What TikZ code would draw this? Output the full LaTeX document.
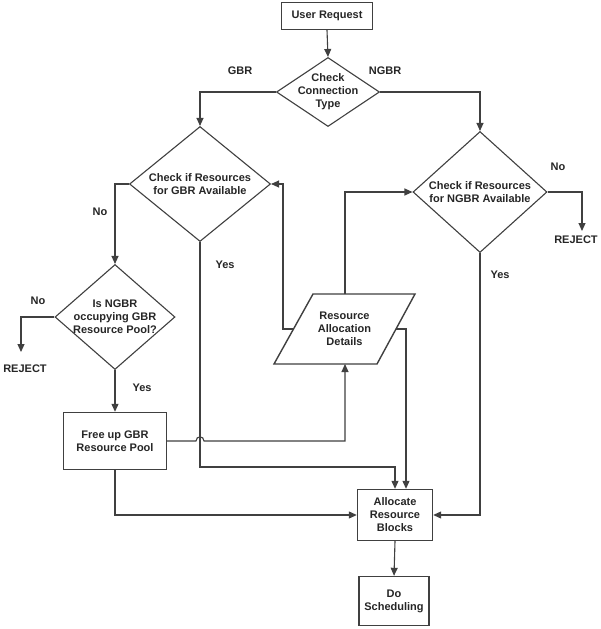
\documentclass[tikz,border=0pt]{standalone}
\usepackage{fontspec}
\setmainfont{Liberation Sans}
\usetikzlibrary{shapes.geometric,arrows.meta}
\begin{document}
\begin{tikzpicture}[x=1pt,y=-1pt,
  every node/.style={font=\fontsize{11}{13}\selectfont\bfseries, text=black!85},
  box/.style={draw=black!75, line width=1.4pt, rectangle, align=center, inner sep=0pt},
  dia/.style={draw=black!75, line width=1.1pt, diamond, inner sep=0pt},
  shapeline/.style={draw=black!75, line width=1.4pt, line join=miter},
  conn/.style={draw=black!75, line width=1.1pt},
  arr/.style={conn, -{Triangle[length=8pt,width=7pt]}},
  lbl/.style={inner sep=0pt},
  inner/.style={align=center}
]
\useasboundingbox[fill=white] (0,0) rectangle (600,629);

% nodes
\node[box, minimum width=91pt, minimum height=27pt] (ur) at (327,16) {User Request};
\node[dia, minimum width=103pt, minimum height=69pt,
  label={[inner]center:Check\\Connection\\Type}] (cct) at (328,92) {};
\node[dia, minimum width=141pt, minimum height=115pt,
  label={[inner]center:Check if Resources\\for GBR Available}] (gbr) at (200,184) {};
\node[dia, minimum width=134pt, minimum height=121pt,
  label={[inner]center:Check if Resources\\for NGBR Available}] (ngbr) at (480,192) {};
\node[dia, minimum width=120pt, minimum height=105pt,
  label={[inner]center:Is NGBR\\occupying GBR\\Resource Pool?}] (isn) at (115,317) {};
\node[box, minimum width=103pt, minimum height=57pt] (free) at (115,441) {Free up GBR\\Resource Pool};
\node[box, minimum width=75pt, minimum height=51pt] (alloc) at (395,515) {Allocate\\Resource\\Blocks};
\node[box, minimum width=70pt, minimum height=49pt] (sched) at (394,601) {Do\\Scheduling};

% parallelogram (Resource Allocation Details)
\coordinate (radBL) at (274,364);
\coordinate (radBR) at (377,364);
\coordinate (radTR) at (415,294);
\coordinate (radTL) at (313,294);
\draw[shapeline] (radBL) -- (radBR) -- (radTR) -- (radTL) -- cycle;
\node[align=center, inner sep=0pt] (rad) at (344.5,329) {Resource\\Allocation\\Details};
\coordinate (radE) at (396,329);
\coordinate (radW) at (293.5,329);
\coordinate (radN) at (345,294);
\coordinate (radS) at (345,364);

% free ends
\coordinate (rej1) at (21,352);
\coordinate (rej2) at (582,231);
\coordinate (jumpa) at (196,441);
\coordinate (jumpb) at (204,441);

% labels
\node[lbl] (lgbr) at (240,71) {GBR};
\node[lbl] (lngbr) at (385,71) {NGBR};
\node[lbl] (lno1) at (100,212) {No};
\node[lbl] (lyes1) at (225,265) {Yes};
\node[lbl] (lno2) at (558,167) {No};
\node[lbl] (lyes2) at (500,275) {Yes};
\node[lbl] (lno3) at (38,301) {No};
\node[lbl] (lyes3) at (142,388) {Yes};
\node[lbl] (rj1) at (25,369) {REJECT};
\node[lbl] (rj2) at (576,240) {REJECT};

% connectors
\draw[arr] (ur.south) -- (cct.north);
\draw[arr] (cct.west) -| (gbr.north);
\draw[arr] (cct.east) -| (ngbr.north);
\draw[arr] (gbr.west) -| (isn.north);
\draw[arr] (isn.west) -| (rej1);
\draw[arr] (isn.south) -- (free.north);
\draw[arr] (gbr.south) |- (200,467) -| (alloc.north);
\draw[arr] (radE) -| ([xshift=11pt]alloc.north);
\draw[arr] (radW) -- (283,329) |- (gbr.east);
\draw[arr] (radN) |- (ngbr.west);
\draw[arr] (free.east) -- (jumpa) .. controls (196,435.5) and (204,435.5) .. (jumpb) -| (radS);
\draw[arr] (free.south) |- (alloc.west);
\draw[arr] (ngbr.south) |- (alloc.east);
\draw[arr] (ngbr.east) -| (rej2);
\draw[arr] (alloc.south) -- (sched.north);
\end{tikzpicture}
\end{document}
